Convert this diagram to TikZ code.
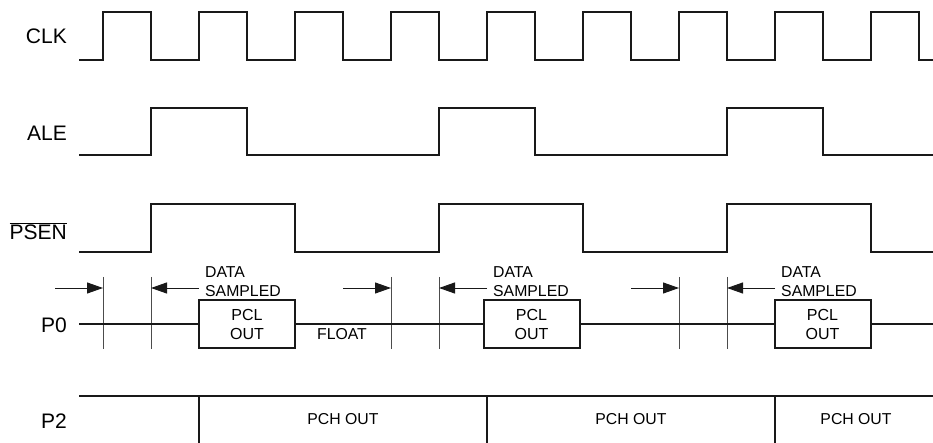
\documentclass[tikz,border=0pt]{standalone}
\usepackage{fontspec}
\setmainfont{Liberation Sans}
\usetikzlibrary{arrows.meta}
\begin{document}
\begin{tikzpicture}[x=1pt,y=-1pt,
  sig/.style={line width=2pt, line join=miter, draw=black!90},
  guide/.style={line width=1pt, draw=black!70},
  lbl/.style={font=\fontsize{21}{24}\selectfont, inner sep=0, anchor=east},
  small/.style={font=\fontsize{15.8}{19}\selectfont, inner sep=0},
  arr/.style={line width=1pt, draw=black!90, -{Triangle[length=16pt,width=11pt]}},
  pcl/.style={draw=black!90, line width=2pt, minimum width=96pt, minimum height=48pt,
    inner sep=0, align=center, font=\fontsize{16}{19}\selectfont}
]
\useasboundingbox (0,0) rectangle (933,443);

% labels
\node[lbl] (lclk) at (67,36) {CLK};
\node[lbl] (lale) at (67,133) {ALE};
\node[lbl] (lpsen) at (67,231) {$\overline{\mbox{PSEN}}$};
\node[lbl] (lp0) at (67,325) {P0};
\node[lbl] (lp2) at (67,421) {P2};

% CLK
\draw[sig] (79,60) foreach \i in {0,...,8} {
  -- ({103+96*\i},60) -- ({103+96*\i},12) -- ({151+96*\i},12) -- ({151+96*\i},60) } -- (933,60);

% ALE
\draw[sig] (79,155) -- (151,155) -- (151,108) -- (247,108) -- (247,155)
  -- (439,155) -- (439,108) -- (535,108) -- (535,155)
  -- (727,155) -- (727,108) -- (823,108) -- (823,155) -- (933,155);

% PSEN
\draw[sig] (79,252) -- (151,252) -- (151,204) -- (295,204) -- (295,252)
  -- (439,252) -- (439,204) -- (583,204) -- (583,252)
  -- (727,252) -- (727,204) -- (871,204) -- (871,252) -- (933,252);

% P0 guides
\foreach \x/\n in {103/g1,151/g2,391/g3,439/g4,679/g5,727/g6} {
  \draw[guide] (\x,277) -- (\x,349);
  \coordinate (\n) at (\x,288);
}
\coordinate (t1) at (55,288);
\coordinate (t2) at (199,288);
\coordinate (t3) at (343,288);
\coordinate (t4) at (487,288);
\coordinate (t5) at (631,288);
\coordinate (t6) at (775,288);
\draw[arr] (t1) -- (g1);
\draw[arr] (t2) -- (g2);
\draw[arr] (t3) -- (g3);
\draw[arr] (t4) -- (g4);
\draw[arr] (t5) -- (g5);
\draw[arr] (t6) -- (g6);

\node[small, anchor=west, align=left] (ds1) at (205,282) {DATA\\SAMPLED};
\node[small, anchor=west, align=left] (ds2) at (493,282) {DATA\\SAMPLED};
\node[small, anchor=west, align=left] (ds3) at (781,282) {DATA\\SAMPLED};

% P0 line and boxes
\coordinate (p0s) at (79,324);
\coordinate (p0e) at (933,324);
\node[pcl] (b1) at (247,324) {PCL\\OUT};
\node[pcl] (b2) at (531.5,324) {PCL\\OUT};
\node[pcl] (b3) at (822.5,324) {PCL\\OUT};
\draw[sig] (p0s) -- (b1.west);
\draw[sig] (b1.east) -- (b2.west);
\draw[sig] (b2.east) -- (b3.west);
\draw[sig] (b3.east) -- (p0e);
\node[small] (float) at (342,334) {FLOAT};

% P2
\draw[sig] (79,396) -- (933,396);
\foreach \x in {199,487,775} {
  \draw[sig] (\x,396) -- (\x,443);
}
\node[small] (pch1) at (343,419) {PCH OUT};
\node[small] (pch2) at (631,419) {PCH OUT};
\node[small] (pch3) at (856,419) {PCH OUT};
\end{tikzpicture}
\end{document}
